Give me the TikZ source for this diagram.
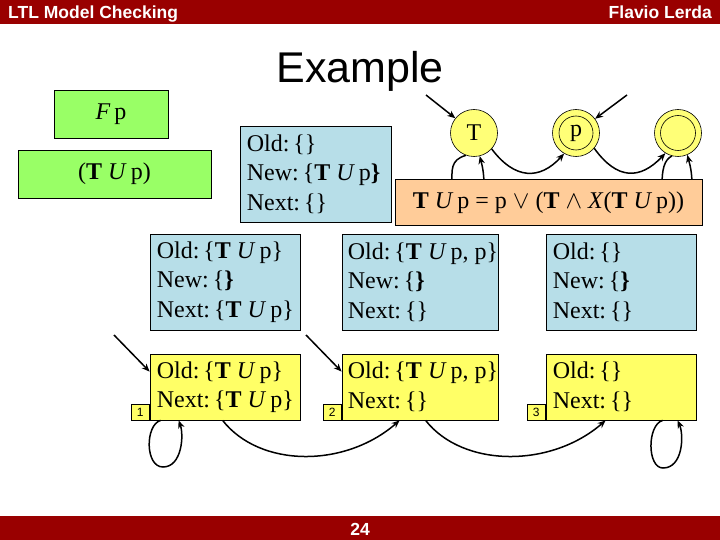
\documentclass[tikz,border=0pt]{standalone}
\usepackage{fontspec}
\setmainfont{Liberation Serif}
\newfontfamily\arial{Liberation Sans}
\usetikzlibrary{arrows.meta,calc}
\definecolor{barred}{HTML}{990000}
\definecolor{lblue}{HTML}{B7DEE8}
\definecolor{yel}{HTML}{FFFF66}
\definecolor{cyel}{HTML}{FFFF77}
\definecolor{lgreen}{HTML}{99FF66}
\definecolor{peach}{HTML}{FFCC99}
\newcommand\TUp{\textbf{T} \textit{U}\,p}
\begin{document}
\begin{tikzpicture}[x=1pt,y=-1pt,
  box/.style={draw=black, line width=0.8pt, inner sep=0pt},
  bluebox/.style={box, fill=lblue},
  ybox/.style={box, fill=yel},
  txt/.style={align=left, inner sep=0pt, font=\fontsize{24}{29.5}\selectfont, anchor=west},
  st/.style={circle, draw=black, line width=0.6pt, fill=cyel, minimum size=47pt, inner sep=0pt, font=\fontsize{24}{29}\selectfont},
  conn/.style={line width=1.5pt, -{Stealth[length=8pt,width=6.5pt]}},
  lbl/.style={box, fill=yel, minimum width=18pt, minimum height=16pt, font=\arial\fontsize{12}{12}\selectfont, anchor=south east},
  barlabel/.style={inner sep=0pt, text=white, font=\arial\bfseries\fontsize{17.5}{20}\selectfont}
]
\useasboundingbox (0,0) rectangle (720,540);
% bars
\fill[barred] (0,0) rectangle (720,24);
\fill[barred] (0,516) rectangle (720,540);
\node[barlabel, anchor=base west] (hl) at (8,19) {LTL Model Checking};
\node[barlabel, anchor=base east] (hr) at (712,19) {Flavio Lerda};
\node[barlabel, anchor=base] (pg) at (360,535) {24};
\node[inner sep=0pt, anchor=base, font=\arial\fontsize{43}{48}\selectfont] (title) at (360,83) {Example};

% green boxes
\node[box, fill=lgreen, minimum width=114pt, minimum height=48pt, font=\fontsize{24}{29}\selectfont] (g1) at (111,114) {\textit{F}\,p};
\node[box, fill=lgreen, minimum width=193pt, minimum height=48pt, font=\fontsize{24}{29}\selectfont] (g2) at (114.5,174) {(\TUp)};

% top blue box
\node[bluebox, minimum width=151pt, minimum height=96pt] (b0) at (315.5,174) {};
\node[txt] (b0t) at ($(b0.west)+(7,0)$) {Old:\,\{\}\\New:\,\{\TUp\textbf{\}}\\Next:\,\{\}};

% automaton
\node[st] (T) at (474,133) {T};
\node[st] (P) at (576,133) {p};
\node[st] (C) at (678,133) {};
\draw[line width=0.6pt] (P.center) circle[radius=17pt];
\draw[line width=0.6pt] (C.center) circle[radius=17.5pt];
\coordinate (iT) at (426,95);
\coordinate (iP) at (627,95);
\draw[conn] (iT) -- (T);
\draw[conn] (iP) -- (P);
\draw[conn] (T.250) .. controls (450,160) and (452,170) .. (452,185) .. controls (452,210) and (484,210) .. (484,185) .. controls (484,172) and (482,165) .. (T.284);
\draw[conn] (C.255) .. controls (664,160) and (662,170) .. (662,185) .. controls (662,210) and (692,210) .. (692,185) .. controls (692,172) and (690,165) .. (C.293);
\draw[conn] (T.318) .. controls (515,180) and (540,180) .. (P.240);
\draw[conn] (P.320) .. controls (617,180) and (640,180) .. (C.238);
\node[box, fill=peach, minimum width=307pt, minimum height=46pt, font=\fontsize{24}{29}\selectfont] (eq) at (548.5,202.5)
  {\TUp{} = p $\vee$ (\textbf{T} $\wedge$ \textit{X}(\TUp))};

% blue row
\node[bluebox, minimum width=150pt, minimum height=96pt] (b1) at (225,282) {};
\node[bluebox, minimum width=156pt, minimum height=96pt] (b2) at (420,282) {};
\node[bluebox, minimum width=150pt, minimum height=96pt] (b3) at (621,282) {};
\node[txt] (b1t) at ($(b1.west)+(7,0)$) {Old:\,\{\TUp\}\\New:\,\{\textbf{\}}\\Next:\,\{\TUp\}};
\node[txt] (b2t) at ($(b2.west)+(6,0)$) {Old:\,\{\TUp, p\}\\New:\,\{\textbf{\}}\\Next:\,\{\}};
\node[txt] (b3t) at ($(b3.west)+(7,0)$) {Old:\,\{\}\\New:\,\{\textbf{\}}\\Next:\,\{\}};

% yellow row
\node[ybox, minimum width=150pt, minimum height=66pt] (s1) at (225,387) {};
\node[ybox, minimum width=156pt, minimum height=66pt] (s2) at (420,387) {};
\node[ybox, minimum width=150pt, minimum height=66pt] (s3) at (621,387) {};
\node[txt] (s1t) at ($(s1.west)+(7,0)$) {Old:\,\{\TUp\}\\Next:\,\{\TUp\}};
\node[txt] (s2t) at ($(s2.west)+(6,0)$) {Old:\,\{\TUp, p\}\\Next:\,\{\}};
\node[txt] (s3t) at ($(s3.west)+(7,0)$) {Old:\,\{\}\\Next:\,\{\}};
\node[lbl] (n1) at (s1.south west) {1};
\node[lbl] (n2) at (s2.south west) {2};
\node[lbl] (n3) at (s3.south west) {3};

\coordinate (i1) at (114,335);
\coordinate (i2) at (306,335);
\draw[conn] (i1) -- ($(s1.north west)+(0,18)$);
\draw[conn] (i2) -- ($(s2.north west)+(0,18)$);
\coordinate (l1) at (163,467);
\coordinate (l3) at (663,468);
\draw[conn] ($(s1.south west)+(11,0)$) .. controls (145,425) and (145,467) .. (l1) .. controls (182,467) and (184,435) .. ($(s1.south west)+(29,0)$);
\draw[conn] ($(s3.south west)+(117,0)$) .. controls (647,425) and (647,468) .. (l3) .. controls (683,468) and (684,435) .. ($(s3.south west)+(132,0)$);
\draw[conn] ($(s1.south west)+(73,0)$) .. controls (260,468) and (345,468) .. ($(s2.south west)+(58,0)$);
\draw[conn] ($(s2.south west)+(84,0)$) .. controls (463,468) and (551,468) .. ($(s3.south west)+(60,0)$);
\end{tikzpicture}
\end{document}
